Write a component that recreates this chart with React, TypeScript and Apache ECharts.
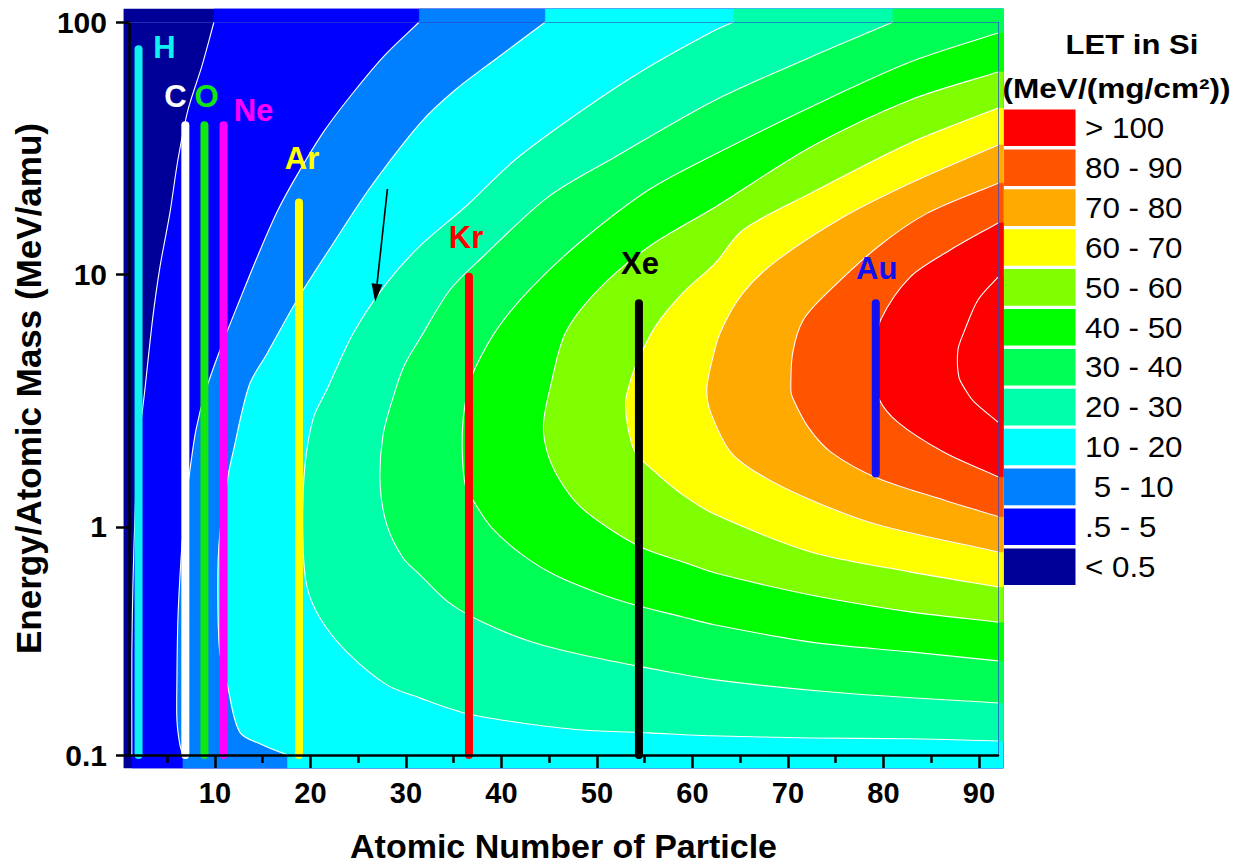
import React, { useEffect, useRef } from "react";
import * as echarts from "echarts";

const FONT = "'Liberation Sans', Arial, Helvetica, sans-serif";

// ---------- axis ticks ----------
const xTicks = [10, 20, 30, 40, 50, 60, 70, 80, 90];
const xMinorTicks = [5, 15, 25, 35, 45, 55, 65, 75, 85];
const yTicks = [0.125, 1, 10, 100];
const yTickLabels = ["0.1", "1", "10", "100"];

// ---------- contour lines of LET (Z, E/amu) ----------
const levels = [0.5, 5, 10, 20, 30, 40, 50, 60, 70, 80, 90, 100];
const contour05 = [[9.9, 100], [8.64, 67], [7.17, 44.8], [6.12, 28.4], [5.28, 17.5], [4.24, 10.7], [3.5, 6.79], [2.66, 3.49], [1.93, 1.98], [1.62, 1.09], [1.41, 0.589], [1.3, 0.32], [1.3, 0.125]];
const contour5 = [[31.4, 100], [27.8, 74], [24.7, 53.8], [21.5, 37.3], [18.9, 25.9], [16.6, 18], [14.5, 11.9], [12.6, 7.93], [10.73, 5.26], [9.06, 3.49], [8.01, 2.42], [7.38, 1.68], [6.86, 1.17], [6.44, 0.74], [6.12, 0.428], [6.02, 0.248], [6.02, 0.172], [6.33, 0.137], [6.65, 0.125]];
const contour10 = [[44.6, 100], [39.7, 72.7], [35.15, 53.8], [31.5, 39.8], [26.3, 22.2], [22.4, 13.3], [18.6, 7.93], [15.5, 4.89], [13.6, 3.65], [11.9, 1.98], [11.4, 1.61], [10.5, 0.93], [10.3, 0.589], [10.5, 0.32], [11.3, 0.237], [12.6, 0.154], [15.0, 0.137], [17.6, 0.125]];
const contour20 = [[64.3, 100], [62.4, 93], [55.4, 66.3], [48.5, 44.8], [41.4, 28.4], [36.2, 18.5], [31.5, 13], [28, 9.26], [24.5, 5.87], [21.7, 3.49], [20.3, 2.7], [19.4, 1.71], [19.2, 0.93], [19.6, 0.589], [21, 0.436], [23.8, 0.32], [28, 0.237], [31.5, 0.21], [36.2, 0.183], [41.4, 0.169], [48.5, 0.157], [55.4, 0.153], [61.9, 0.149], [72.4, 0.146], [82.8, 0.145], [92, 0.142]];
const contour30 = [[81, 100], [72.4, 72.7], [62.4, 49.1], [51.9, 29.2], [44.9, 20.3], [38, 11.7], [34.6, 8.68], [31.5, 5.6], [29.9, 4.42], [28.9, 3.49], [27.6, 2.31], [27.3, 1.47], [28, 1.02], [29.7, 0.754], [31.5, 0.645], [34.4, 0.505], [38, 0.42], [43.2, 0.35], [48.5, 0.311], [55.4, 0.276], [62.4, 0.248], [75.8, 0.22], [92, 0.201]];
const contour40 = [[92, 90.4], [82.8, 69.4], [72.4, 46.1], [62.4, 30], [55.4, 21.6], [48.5, 13.7], [43.2, 8.92], [39.7, 6.2], [37.3, 4.3], [36.5, 3.49], [36, 2.7], [35.9, 1.98], [36.2, 1.47], [37, 1.28], [39, 0.991], [42.2, 0.775], [45.6, 0.645], [50.1, 0.548], [54, 0.491], [59, 0.44], [62.4, 0.409], [72.4, 0.35], [82.8, 0.32], [92, 0.295]];
const contour50 = [[92, 63.4], [82.8, 49.1], [72.4, 32], [62.4, 18.5], [55.4, 12.85], [50.1, 8.68], [46.7, 5.87], [45.1, 3.55], [44.4, 2.54], [44.8, 1.98], [46, 1.56], [48.1, 1.22], [51.2, 0.991], [54.8, 0.826], [59, 0.727], [62.4, 0.657], [72.4, 0.538], [82.8, 0.461], [92, 0.42]];
const contour60 = [[92, 45.6], [82.8, 33.2], [72.4, 21], [65.3, 15], [62.4, 11.1], [59, 8.45], [56.1, 6.2], [54, 4.3], [53.3, 3.55], [53, 3.13], [53.2, 2.54], [54, 1.98], [56.1, 1.65], [59, 1.34], [62.4, 1.12], [72.4, 0.796], [82.8, 0.664], [92, 0.579]];
const contour70 = [[92, 32.6], [82.8, 23], [75.8, 16.9], [68.9, 11.4], [65.3, 8.45], [62.9, 5.87], [61.9, 4.3], [61.5, 3.49], [61.9, 2.85], [64, 1.98], [67.1, 1.61], [72.4, 1.28], [79.4, 1.02], [92, 0.796]];
const contour80 = [[92, 23], [84.6, 17.5], [79.4, 12.85], [74.1, 8.45], [71.6, 6.6], [70.5, 4.89], [70.3, 3.49], [70.5, 3.24], [72.1, 2.49], [74.5, 1.98], [79.4, 1.56], [86.3, 1.28], [92, 1.1]];
const contour90 = [[92, 16], [87, 12.5], [82.8, 9.77], [79.7, 6.6], [79.4, 5.26], [79.4, 4], [79.5, 3.24], [81.5, 2.6], [86.3, 1.98], [92, 1.58]];
const contour100 = [[92, 9.77], [89.9, 7.93], [88.4, 5.87], [87.8, 5.02], [87.9, 3.93], [88.6, 3.49], [89.5, 3.13], [92, 2.6]];
const contours = [contour05, contour5, contour10, contour20, contour30, contour40, contour50, contour60, contour70, contour80, contour90, contour100];

// extent of the filled map (it spills a little beyond the axes)
const fillZ = [0.46, 92.56];
const fillE = [0.111, 112.6];

// band colours, lowest band first
const bandColors = ["#000099", "#0000FF", "#0080FF", "#00FFFF", "#00FFAA", "#00FF55", "#00FF00", "#80FF00", "#FFFF00", "#FFAA00", "#FF5500", "#FF0000", "#FF0000"];

// ---------- legend ----------
const legendLabels = ["> 100", "80 - 90", "70 - 80", "60 - 70", "50 - 60", "40 - 50", "30 - 40", "20 - 30", "10 - 20", " 5 - 10", ".5 - 5", "< 0.5"];
const legendColors = ["#FF0000", "#FF5500", "#FFAA00", "#FFFF00", "#80FF00", "#00FF00", "#00FF55", "#00FFAA", "#00FFFF", "#0080FF", "#0000FF", "#000099"];

// ---------- ion beams ----------
const elementNames = ["H", "C", "O", "Ne", "Ar", "Kr", "Xe", "Au"];
const elementZ = [2.0, 6.9, 8.9, 10.9, 18.8, 36.6, 54.4, 79.2];
const elementEmin = [0.125, 0.125, 0.125, 0.125, 0.125, 0.125, 0.125, 1.63];
const elementEmax = [78, 39, 39, 39, 19.3, 9.8, 7.7, 7.7];
const elementColors = ["#11F0F0", "#FFFFFF", "#11E811", "#FF00FF", "#FFFF00", "#FF0000", "#000000", "#1010F0"];

// annotation arrow
const arrowFrom = [28.06, 21.8];
const arrowTo = [26.77, 7.8];

// ---------- styles (pixel offsets of the element labels from bar tops) ----------
const LABEL_OFFSET = [[26, -2], [-10, -29], [2, -29], [30, -15], [3, -44], [-3, -39], [1, -40], [1, -35]];

type Band = { pre: number[][]; curve: number[][]; post: number[][] };

function bandShape(c: number[][]): Band {
  const first = c[0];
  const last = c[c.length - 1];
  const fromTop = first[1] >= 100;
  const pre = [fromTop ? [first[0], fillE[1]] : [fillZ[1], first[1]]];
  const post: number[][] = [];
  if (last[1] <= 0.125) {
    post.push([last[0], fillE[0]], [fillZ[1], fillE[0]]);
  } else {
    post.push([fillZ[1], last[1]]);
  }
  if (fromTop) post.push([fillZ[1], fillE[1]]);
  return { pre, curve: c, post };
}

const bands: Band[] = [
  { pre: [[fillZ[0], fillE[0]]], curve: [[fillZ[1], fillE[0]], [fillZ[1], fillE[1]]], post: [[fillZ[0], fillE[1]]] },
  ...contours.map(bandShape),
];

// length-aware smoothing through pixel points (rendering only, no overshoot)
function unit(ax: number, ay: number): number[] {
  const l = Math.sqrt(ax * ax + ay * ay) || 1;
  return [ax / l, ay / l];
}
function smoothSegs(pts: number[][], k = 0.3): string {
  let d = "";
  for (let i = 0; i < pts.length - 1; i++) {
    const p0 = pts[i - 1] || pts[i];
    const p1 = pts[i];
    const p2 = pts[i + 1];
    const p3 = pts[i + 2] || p2;
    const L = Math.hypot(p2[0] - p1[0], p2[1] - p1[1]);
    const t1 = unit(p2[0] - p0[0], p2[1] - p0[1]);
    const t2 = unit(p3[0] - p1[0], p3[1] - p1[1]);
    const c1x = p1[0] + t1[0] * L * k;
    const c1y = p1[1] + t1[1] * L * k;
    const c2x = p2[0] - t2[0] * L * k;
    const c2y = p2[1] - t2[1] * L * k;
    d += ` C${c1x.toFixed(2)},${c1y.toFixed(2)} ${c2x.toFixed(2)},${c2y.toFixed(2)} ${p2[0].toFixed(2)},${p2[1].toFixed(2)}`;
  }
  return d;
}

function yLabel(v: number): string {
  const i = yTicks.findIndex((t) => Math.abs(Math.log10(t) - Math.log10(v)) < 0.01);
  return i >= 0 ? yTickLabels[i] : "";
}

function buildOption(): any {
  const legendGraphic: any[] = [
    {
      type: "text", x: 1132, y: 45, scaleX: 1.15,
      style: { text: "LET in Si", font: `bold 27px ${FONT}`, fill: "#000", align: "center", verticalAlign: "middle", textAlign: "center", textVerticalAlign: "middle" },
    },
    {
      type: "text", x: 1116.5, y: 88, scaleX: 1.17,
      style: { text: "(MeV/(mg/cm²))", font: `bold 27px ${FONT}`, fill: "#000", align: "center", verticalAlign: "middle", textAlign: "center", textVerticalAlign: "middle" },
    },
  ];
  legendLabels.forEach((lab, i) => {
    const top = 109.5 + i * 39.9;
    legendGraphic.push({ type: "rect", shape: { x: 1002.5, y: top, width: 73, height: 36.6 }, style: { fill: legendColors[i] } });
    legendGraphic.push({
      type: "text", x: 1085, y: top + 18.5, scaleX: 1.08,
      style: { text: lab, font: `29px ${FONT}`, fill: "#000", align: "left", verticalAlign: "middle", textAlign: "left", textVerticalAlign: "middle" },
    });
  });

  const axisBlack = { color: "#000", width: 2.5 };

  return {
    animation: false,
    backgroundColor: "#ffffff",
    grid: { left: 129, top: 22, width: 869, height: 733, containLabel: false, outerBoundsMode: "none" },
    xAxis: [
      {
        type: "value", min: 1, max: 92, position: "bottom", z: 5,
        name: "Atomic Number of Particle", nameLocation: "middle", nameGap: 74,
        nameTextStyle: { fontSize: 34, fontWeight: "bold", color: "#000", fontFamily: FONT },
        axisLine: { show: true, onZero: false, lineStyle: axisBlack },
        axisTick: { show: true, customValues: xTicks, length: 13, lineStyle: axisBlack },
        axisLabel: { show: true, customValues: xTicks, margin: 23, fontSize: 29, fontWeight: "bold", color: "#000", fontFamily: FONT },
        splitLine: { show: false },
      },
      {
        type: "value", min: 1, max: 92, position: "bottom", z: 5,
        axisLine: { show: false, onZero: false },
        axisTick: { show: true, customValues: xMinorTicks, length: 8, lineStyle: axisBlack },
        axisLabel: { show: false },
        splitLine: { show: false },
      },
      {
        type: "value", min: 1, max: 92, position: "top", z: 5,
        axisLine: { show: true, onZero: false, lineStyle: { color: "#2a48c8", width: 1, opacity: 0.6 } },
        axisTick: { show: false }, axisLabel: { show: false }, splitLine: { show: false },
      },
    ],
    yAxis: [
      {
        type: "log", logBase: 10, min: 0.125, max: 100, position: "left", z: 5,
        name: "Energy/Atomic Mass (MeV/amu)", nameLocation: "middle", nameGap: 79,
        nameTextStyle: { fontSize: 35, fontWeight: "bold", color: "#000", fontFamily: FONT },
        axisLine: { show: true, onZero: false, lineStyle: axisBlack },
        axisTick: { show: true, customValues: yTicks, length: 13, lineStyle: axisBlack },
        axisLabel: { show: true, customValues: yTicks, formatter: yLabel, margin: 22, fontSize: 30, fontWeight: "bold", color: "#000", fontFamily: FONT },
        splitLine: { show: false },
        minorTick: { show: false },
      },
      {
        type: "log", logBase: 10, min: 0.125, max: 100, position: "right", z: 5,
        axisLine: { show: true, onZero: false, lineStyle: { color: "#2a48c8", width: 1, opacity: 0.7 } },
        axisTick: { show: false }, axisLabel: { show: false }, splitLine: { show: false },
      },
    ],
    graphic: legendGraphic,
    series: [
      {
        type: "custom", name: "LET bands", xAxisIndex: 0, yAxisIndex: 0, z: 1, clip: false, silent: true,
        encode: { x: 0, y: 1 },
        data: bands.map((b, i) => [b.pre[0][0], b.pre[0][1], i]),
        renderItem: (params: any, api: any) => {
          const i = params.dataIndex;
          const b = bands[i];
          const pre = b.pre.map((p) => api.coord(p));
          const curve = b.curve.map((p) => api.coord(p));
          const post = b.post.map((p) => api.coord(p));
          let d = `M${pre[0][0]},${pre[0][1]}`;
          for (let k = 1; k < pre.length; k++) d += ` L${pre[k][0]},${pre[k][1]}`;
          d += ` L${curve[0][0]},${curve[0][1]}`;
          d += i === 0 ? curve.slice(1).map((p) => ` L${p[0]},${p[1]}`).join("") : smoothSegs(curve);
          for (const p of post) d += ` L${p[0]},${p[1]}`;
          d += " Z";
          return {
            type: "path",
            shape: { pathData: d },
            style: { fill: bandColors[i], stroke: bandColors[i], lineWidth: 0.5 },
          };
        },
      },
      {
        type: "custom", name: "LET contours", xAxisIndex: 0, yAxisIndex: 0, z: 2, clip: false, silent: true,
        encode: { x: 0, y: 1 },
        data: contours.map((c, i) => [c[0][0], c[0][1], levels[i]]),
        renderItem: (params: any, api: any) => {
          const pts = contours[params.dataIndex].map((p) => api.coord(p));
          const d = `M${pts[0][0]},${pts[0][1]}` + smoothSegs(pts);
          return {
            type: "path",
            shape: { pathData: d },
            style: { stroke: "#ffffff", lineWidth: 1.1, fill: "none" },
          };
        },
      },
      {
        type: "custom", name: "Ions", xAxisIndex: 0, yAxisIndex: 0, z: 3, clip: false, silent: true,
        encode: { x: 0, y: [1, 2] },
        data: elementZ.map((z, i) => [z, elementEmin[i], elementEmax[i]]),
        renderItem: (params: any, api: any) => {
          const i = params.dataIndex;
          const p0 = api.coord([api.value(0), api.value(1)]);
          const p1 = api.coord([api.value(0), api.value(2)]);
          const off = LABEL_OFFSET[i];
          return {
            type: "group",
            children: [
              {
                type: "line",
                shape: { x1: p0[0], y1: p0[1], x2: p1[0], y2: p1[1] },
                style: { stroke: elementColors[i], lineWidth: 8, lineCap: "round" },
              },
              {
                type: "text",
                x: p1[0] + off[0],
                y: p1[1] + off[1],
                style: {
                  text: elementNames[i], fill: elementColors[i], font: `bold 31px ${FONT}`,
                  align: "center", verticalAlign: "middle", textAlign: "center", textVerticalAlign: "middle",
                },
              },
            ],
          };
        },
      },
      {
        type: "custom", name: "Arrow", xAxisIndex: 0, yAxisIndex: 0, z: 3, clip: false, silent: true,
        encode: { x: 0, y: 1 },
        data: [[arrowFrom[0], arrowFrom[1], arrowTo[0], arrowTo[1]]],
        renderItem: (params: any, api: any) => {
          const a = api.coord([api.value(0), api.value(1)]);
          const b = api.coord([api.value(2), api.value(3)]);
          const dx = b[0] - a[0];
          const dy = b[1] - a[1];
          const len = Math.sqrt(dx * dx + dy * dy);
          const ux = dx / len;
          const uy = dy / len;
          const headLen = 18;
          const headW = 5.5;
          const bx = b[0] - ux * headLen;
          const by = b[1] - uy * headLen;
          return {
            type: "group",
            children: [
              { type: "line", shape: { x1: a[0], y1: a[1], x2: bx, y2: by }, style: { stroke: "#000", lineWidth: 1.6 } },
              {
                type: "polygon",
                shape: { points: [[b[0], b[1]], [bx - uy * headW, by + ux * headW], [bx + uy * headW, by - ux * headW]] },
                style: { fill: "#000" },
              },
            ],
          };
        },
      },
    ],
  };
}

export default function App() {
  const ref = useRef<HTMLDivElement>(null);
  useEffect(() => {
    if (!ref.current) return;
    const chart = echarts.init(ref.current, null, { renderer: "svg" });
    chart.setOption(buildOption());
    return () => chart.dispose();
  }, []);
  return <div ref={ref} style={{ position: "absolute", left: 0, top: 0, width: 1233, height: 864 }} />;
}
